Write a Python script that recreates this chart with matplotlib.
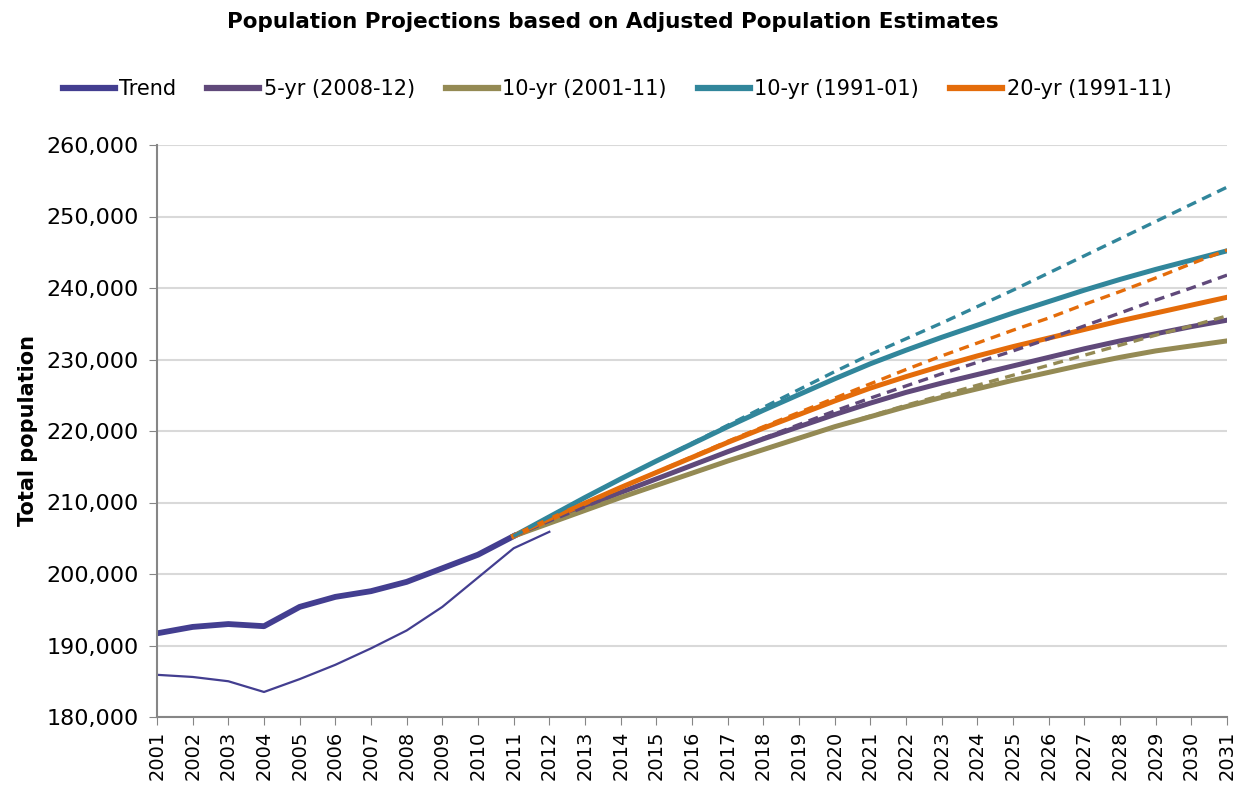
import matplotlib
matplotlib.use('Agg')
import matplotlib.pyplot as plt
from matplotlib.ticker import FuncFormatter

'''
Population projections based on adjusted population estimates.
'''

years_hist = list(range(2001, 2012))
trend_adjusted = [191700, 192600, 193000, 192700, 195400, 196800, 197600, 198900, 200800, 202700, 205300]

years_old = list(range(2001, 2013))
trend_previous = [185900, 185600, 185000, 183500, 185300, 187300, 189600, 192100, 195400, 199500, 203600, 205900]

years_proj = list(range(2011, 2032))

# solid lines: projections
proj_5yr = [205300, 207400, 209400, 211400, 213300, 215200, 217100, 218900, 220600, 222300, 223900,
            225400, 226700, 227900, 229100, 230300, 231500, 232600, 233600, 234600, 235500]
proj_10yr_0111 = [205300, 207100, 208900, 210700, 212400, 214100, 215800, 217400, 219000, 220600, 222000,
                  223400, 224700, 225900, 227100, 228200, 229300, 230300, 231200, 231900, 232600]
proj_10yr_9101 = [205300, 208000, 210700, 213300, 215800, 218200, 220600, 222900, 225100, 227300, 229400,
                  231300, 233100, 234800, 236500, 238100, 239700, 241200, 242600, 243900, 245200]
proj_20yr = [205300, 207600, 209900, 212100, 214200, 216300, 218400, 220400, 222300, 224200, 226000,
             227600, 229100, 230500, 231800, 233000, 234200, 235400, 236500, 237600, 238700]

# dashed lines: alternative variants
alt_5yr = [205300, 207400, 209400, 211400, 213300, 215200, 217100, 219000, 220900, 222800, 224600,
           226300, 228000, 229600, 231200, 232900, 234700, 236500, 238300, 240000, 241800]
alt_10yr_0111 = [205300, 207100, 208900, 210700, 212400, 214100, 215800, 217400, 219000, 220600, 222100,
                 223600, 225000, 226400, 227800, 229200, 230600, 232000, 233400, 234700, 236100]
alt_10yr_9101 = [205300, 208000, 210700, 213300, 215800, 218300, 220800, 223300, 225800, 228300, 230700,
                 232900, 235100, 237400, 239700, 242100, 244500, 246900, 249300, 251700, 254100]
alt_20yr = [205300, 207600, 209900, 212100, 214250, 216400, 218550, 220600, 222600, 224600, 226600,
            228600, 230500, 232300, 234100, 235800, 237700, 239500, 241400, 243400, 245300]

c_trend = '#433e90'
c_5yr = '#60497a'
c_olive = '#948a54'
c_teal = '#31869b'
c_orange = '#e46c0a'

fig = plt.figure(figsize=(12.47, 7.91), dpi=100)
fig.patch.set_facecolor('white')
ax = fig.add_axes([157 / 1247, 1 - 717 / 791, 1070 / 1247, 572 / 791])

ax.plot(years_old, trend_previous, color=c_trend, linewidth=1.6)
ax.plot(years_hist, trend_adjusted, color=c_trend, linewidth=4.2, label='Trend')

ax.plot(years_proj, proj_5yr, color=c_5yr, linewidth=3.6, label='5-yr (2008-12)')
ax.plot(years_proj, proj_10yr_0111, color=c_olive, linewidth=3.6, label='10-yr (2001-11)')
ax.plot(years_proj, proj_10yr_9101, color=c_teal, linewidth=3.6, label='10-yr (1991-01)')
ax.plot(years_proj, proj_20yr, color=c_orange, linewidth=3.6, label='20-yr (1991-11)')

ax.plot(years_proj, alt_10yr_0111, '--', color=c_olive, linewidth=2.4, dashes=(3, 2))
ax.plot(years_proj, alt_5yr, '--', color=c_5yr, linewidth=2.4, dashes=(3, 2))
ax.plot(years_proj, alt_20yr, '--', color=c_orange, linewidth=2.4, dashes=(3, 2))
ax.plot(years_proj, alt_10yr_9101, '--', color=c_teal, linewidth=2.4, dashes=(3, 2))

ax.set_xlim(2001, 2031)
ax.set_ylim(180000, 260000)
ax.set_xticks(range(2001, 2032))
ax.set_xticklabels([str(y) for y in range(2001, 2032)], rotation=90, fontsize=14)
ax.set_yticks(range(180000, 260001, 10000))
ax.yaxis.set_major_formatter(FuncFormatter(lambda v, p: '{:,.0f}'.format(v)))
ax.tick_params(axis='y', labelsize=16, length=6, color='#868686', pad=7)
ax.tick_params(axis='x', length=6, color='#868686', pad=4)
ax.grid(axis='y', color='#d9d9d9', linewidth=1.5)
ax.set_axisbelow(True)
for s in ['top', 'right']:
    ax.spines[s].set_visible(False)
for s in ['left', 'bottom']:
    ax.spines[s].set_color('#868686')
    ax.spines[s].set_linewidth(1.5)

ax.set_ylabel('Total population', fontsize=15, fontweight='bold', labelpad=6)
fig.text(613 / 1247, 1 - 22 / 791, 'Population Projections based on Adjusted Population Estimates',
         ha='center', va='center', fontsize=15.5, fontweight='bold')

handles, labels = ax.get_legend_handles_labels()
leg = fig.legend(handles, labels, loc='center', bbox_to_anchor=(617 / 1247, 1 - 89 / 791), ncol=5,
                 frameon=False, fontsize=15, handlelength=2.5, handletextpad=0.2, columnspacing=1.5)
for line in leg.get_lines():
    line.set_linewidth(4.5)

fig.savefig('out.png', dpi=100, facecolor='white')
